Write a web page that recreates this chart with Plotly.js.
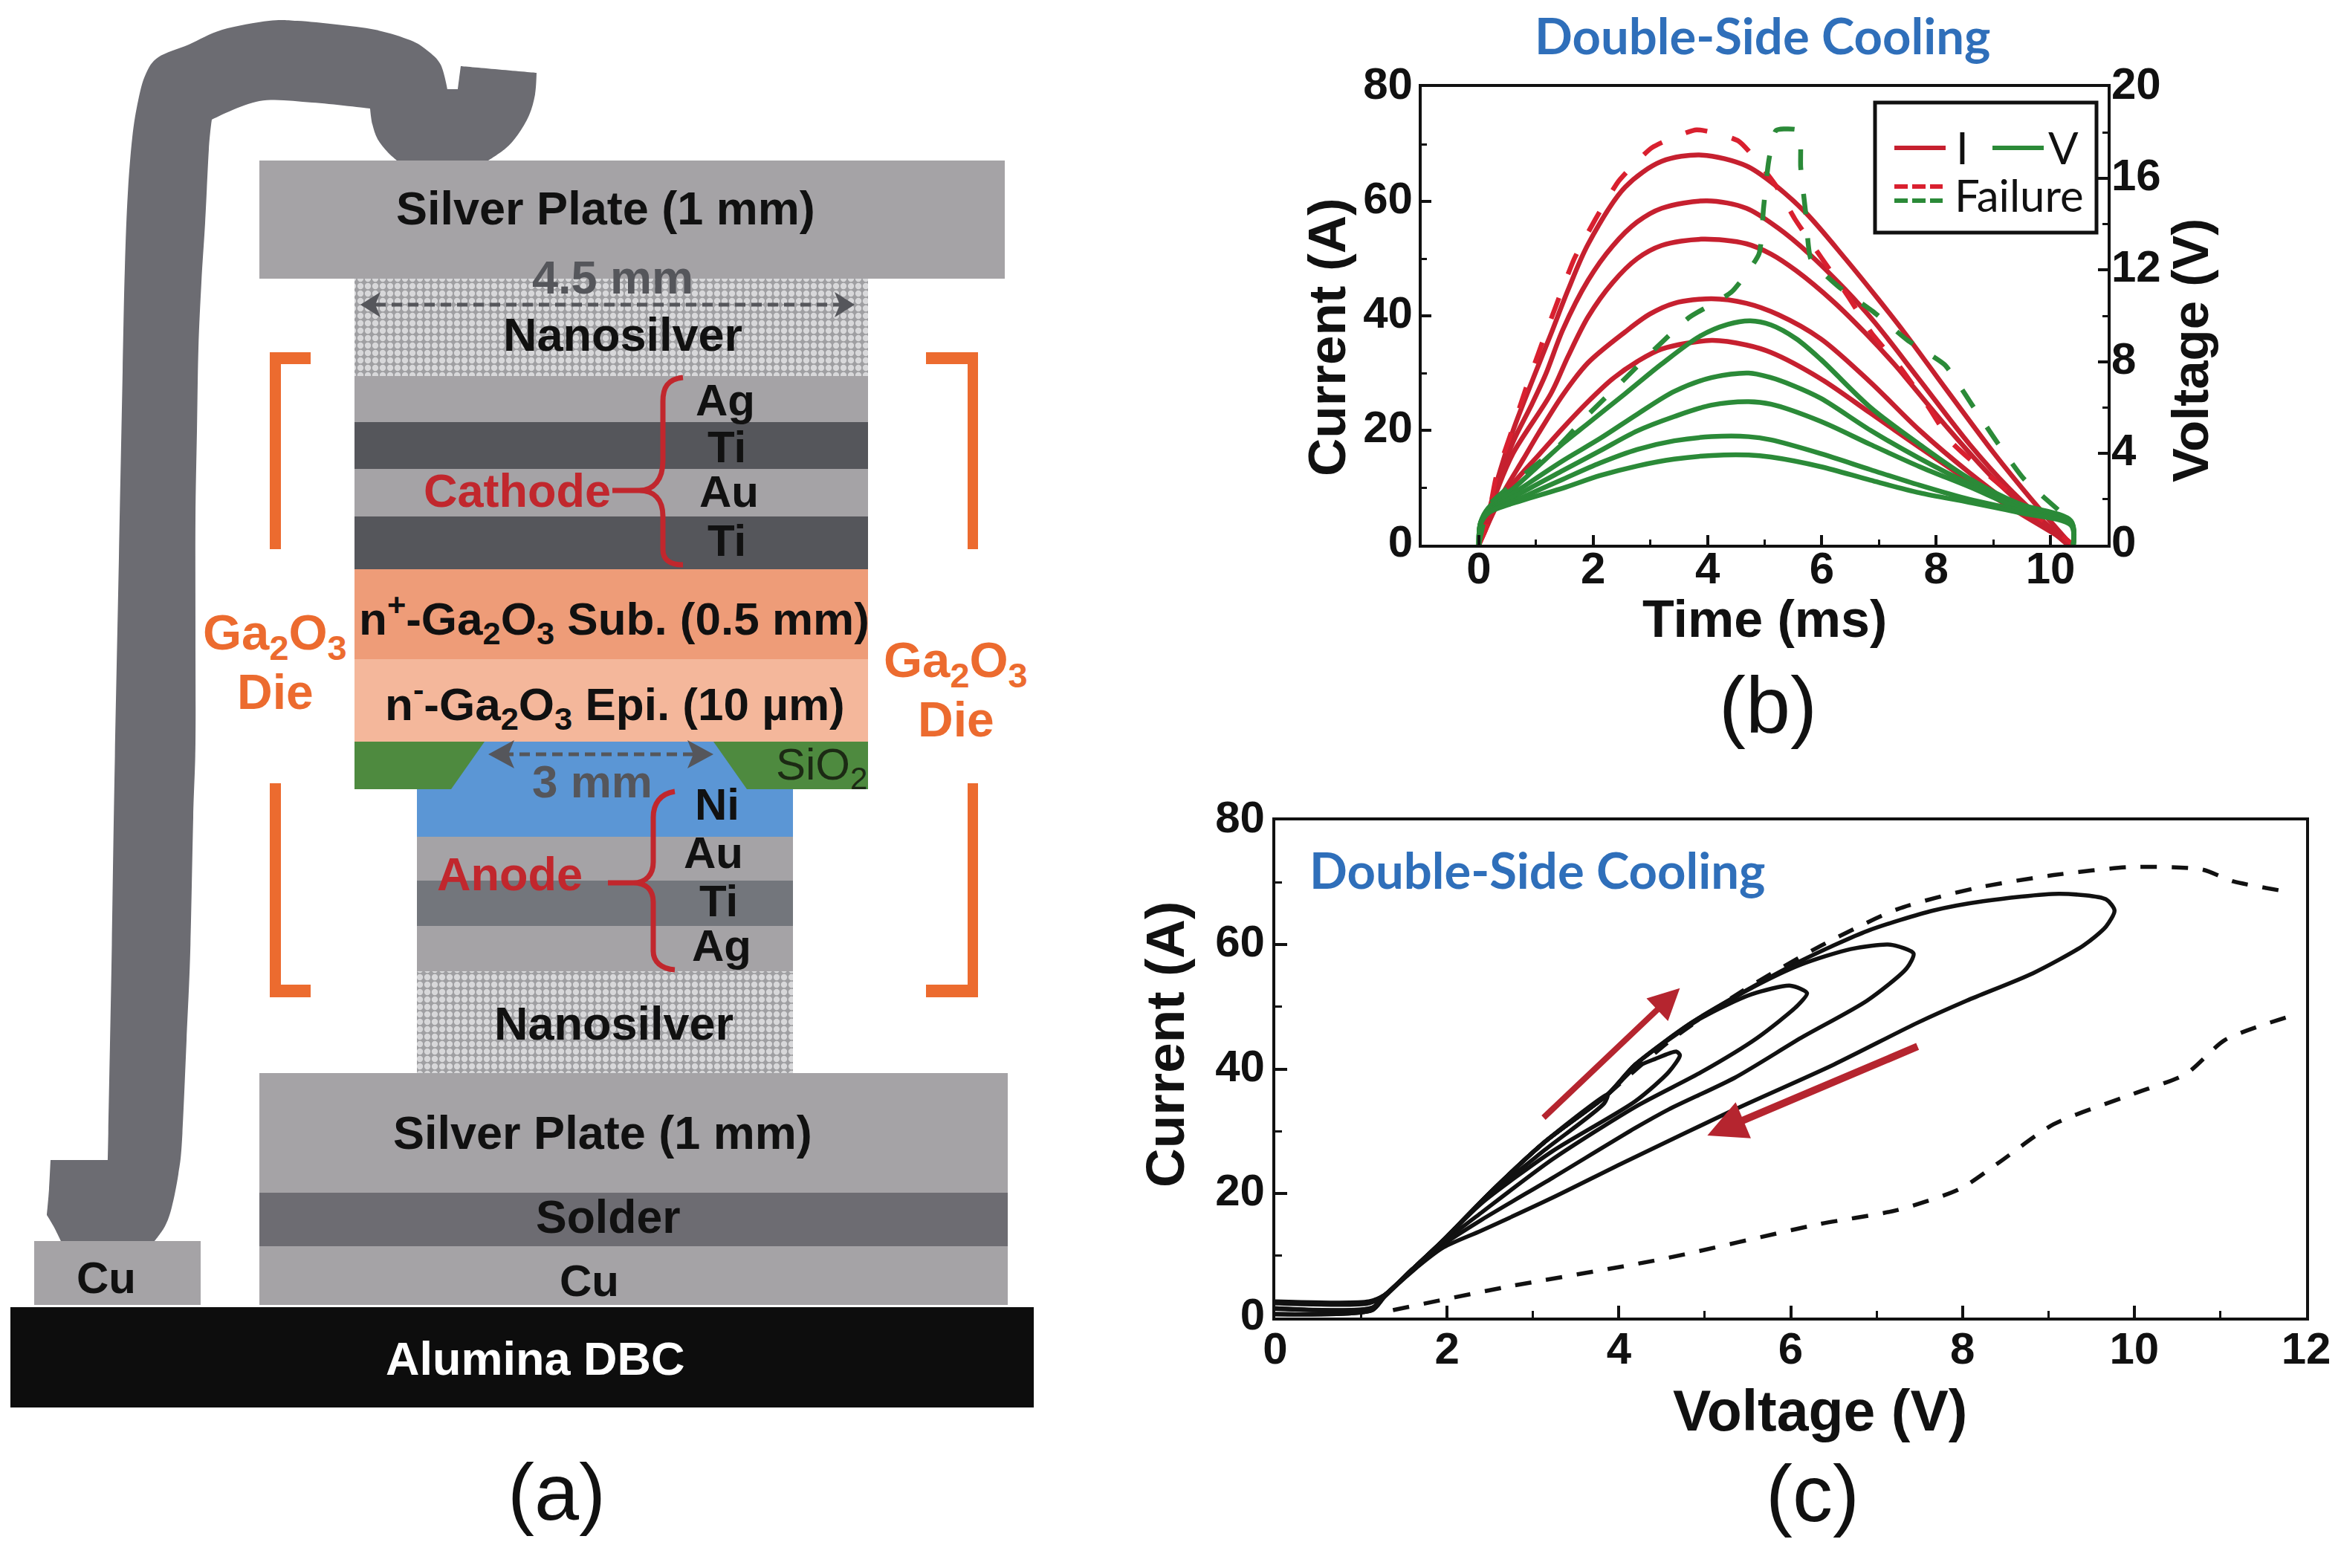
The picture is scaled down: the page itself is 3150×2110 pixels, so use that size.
<!DOCTYPE html>
<html><head><meta charset="utf-8">
<script src="https://cdn.plot.ly/plotly-3.0.1.min.js"></script>
<style>html,body{margin:0;padding:0;background:#fff}</style></head>
<body><div id="chart" style="width:3150px;height:2110px"></div>
<script>
// ---------- panel (b): current and voltage waveforms ----------
const i68t=[0,.1,.3,.6,.98,1.26,1.56,1.91,2.56,3.2,3.9,4.68,5.16,5.72,6.41,6.98,7.45,8.15,9.01,9.66,10.36];
const i68v=[0,3,10.5,20,29.8,36.8,44.5,52.5,62.5,67,68.1,66.2,63,58,50,43,37,27.5,16,8,0];
const i60t=[0,.1,.3,.6,.91,1.17,1.47,1.91,2.34,2.77,3.2,3.99,4.68,5.24,5.76,6.41,6.93,7.71,8.58,9.27,10.32];
const i60v=[0,3,9.8,18,24.2,29.8,37.6,46.2,52.2,56.4,58.8,60.1,58.8,55.3,51,44.6,38.8,28.8,17.6,9.9,0];
const i53t=[0,.1,.3,.6,1.26,1.56,1.91,2.34,2.77,3.2,3.9,4.68,5.11,5.55,6.2,6.76,7.28,8.15,9,10.3];
const i53v=[0,2.8,9,16,26.4,32.9,39.8,45.8,50,52.3,53.4,52.6,50.8,47.9,42.5,37,31.4,21,11.6,0];
const i43t=[0,.1,.4,.78,1.04,1.47,1.91,2.56,2.99,3.42,4.07,4.68,5.24,5.98,6.85,7.71,8.58,9.45,10.1,10.36];
const i43v=[0,2.4,8.6,15,19.4,26.2,31.8,37.2,40.3,42.2,43,42.2,40.2,36,28.4,20,12.6,6.1,2.2,0];
const i35t=[0,.1,.3,.61,1.04,1.47,1.91,2.34,2.77,3.2,4.07,4.68,5.11,5.98,6.85,7.71,8.58,9.45,10.1,10.36];
const i35v=[0,2.2,6.5,10.8,15.6,20.4,25,29,32,34.2,35.7,34.9,33.6,29,23,17,11.1,5.6,1.7,0];
const iFailT=[0,.13,.3,.56,.82,1.08,1.37,1.67,2.04,2.45,3.03,3.81,4.55,5.18,5.53,6.46,6.87,7.37,7.85,8.28,9.23,10.05,10.4];
const iFailV=[0,3,11.7,19.4,27.2,34.5,42.3,50,56.9,63.6,69.4,72.5,70.5,63,56.9,43.4,37,31,24.3,17.8,9.5,2.7,0];
const v98t=[0,.03,.17,.61,1.04,1.47,1.91,2.56,3.2,3.86,4.35,4.75,5.11,5.55,5.98,6.85,7.71,8.58,9.45,10.36,10.4];
const v98v=[0,.97,1.62,2.47,3.44,4.42,5.3,6.6,7.9,9.1,9.62,9.78,9.6,9,8.1,6,4.38,2.89,1.79,1.04,0];
const v75t=[0,.03,.17,.82,1.47,2.12,2.77,3.42,4.07,4.72,5.11,5.5,5.98,6.85,7.71,8.58,9.45,10.36,10.4];
const v75v=[0,.97,1.5,2.6,3.67,4.64,5.7,6.7,7.3,7.5,7.3,6.95,6.4,5,3.77,2.66,1.7,1,0];
const v62t=[0,.03,.17,.82,1.47,2.12,2.77,3.42,4.07,4.72,5.11,5.98,6.85,7.71,8.58,9.45,10.36,10.4];
const v62v=[0,.95,1.45,2.37,3.24,4.1,4.97,5.6,6.1,6.25,6.14,5.39,4.38,3.41,2.53,1.6,.95,0];
const v47t=[0,.03,.17,.82,1.47,2.12,2.77,3.42,4.07,4.72,5.11,5.98,6.85,7.71,8.58,9.45,10.36,10.4];
const v47v=[0,.92,1.4,2.14,2.86,3.57,4.16,4.54,4.72,4.72,4.58,3.98,3.28,2.6,1.98,1.5,.9,0];
const v39t=[0,.03,.17,.82,1.47,2.12,2.77,3.42,4.07,4.72,5.11,5.98,6.85,7.71,8.58,9.45,10.36,10.4];
const v39v=[0,.9,1.4,1.98,2.47,3.02,3.44,3.74,3.9,3.92,3.83,3.41,2.82,2.27,1.85,1.4,.85,0];
const vFailT=[0,.17,.61,1.39,1.91,2.51,3.1,3.68,4.42,4.9,4.98,5.07,5.2,5.6,5.63,5.72,5.81,6.28,6.89,7.5,8.15,8.62,9.06,9.53,10.36];
const vFailV=[0,1.7,2.7,4.3,5.68,7.14,8.6,9.93,11.04,12.7,14.7,16.75,18.1,18.1,16.5,14.45,12.47,11.3,10.2,8.93,7.86,6.14,4.5,2.89,1.04];
// ---------- panel (c): I-V loops ----------
const loop68x=[0,1.09,1.27,1.59,1.96,2.5,3.14,3.87,4.19,4.84,5.35,6.12,6.89,7.66,8.24,9.13,9.67,9.77,9.67,9.4,8.82,8.05,7.47,6.5,5.35,4.05,3.23,2.4,1.96,1.6,1.27,1.13,0];
const loop68y=[2.6,2.6,3.6,7.7,12.5,20.1,28.3,35.9,40.7,47.4,51.6,57.4,62.2,65.5,67,68.2,67.3,65.5,62.9,59.8,55.4,51,47.4,40.7,33.5,24.9,19.3,14,11.3,7.5,3.3,1.2,.5];
const loop60x=[0,1.09,1.27,1.59,1.96,2.5,3.14,3.87,4.19,4.84,5.54,6.12,6.7,7.16,7.43,7.35,6.89,6.12,5.35,4.58,4.19,3.23,2.41,1.96,1.6,1.27,1.13,0];
const loop60y=[2.5,2.5,3.6,7.7,12.5,20.1,28.3,35.9,40.7,47.4,53,56.8,59.3,60,58.6,56.2,51,45,38.6,33.5,30.5,22.5,15.8,11.8,7.6,3.4,1.2,.6];
const loop53x=[0,1.09,1.27,1.59,1.96,2.5,3.14,3.87,4.19,4.96,5.54,6,6.19,6.08,5.61,4.96,4.19,3.23,2.41,1.96,1.6,1.27,1.13,0];
const loop53y=[2.4,2.4,3.6,7.7,12.5,20.1,28.3,35.9,40.7,48.2,52,53.4,52.2,50.2,45,39.5,33.9,25.5,17,12.2,7.7,3.5,1.5,1.5];
const loop43x=[0,1.09,1.27,1.59,1.96,2.5,3.14,3.87,4.19,4.42,4.67,4.71,4.58,4.19,3.23,2.41,1.96,1.6,1.27,1.13,0];
const loop43y=[2.4,2.4,3.6,7.7,12.5,20.1,28.3,35.9,40.2,41.6,42.8,42.2,39.5,34.8,26.8,18.5,12.5,7.7,3.5,1.6,1.5];
const loop35x=[0,1.09,1.27,1.59,1.96,2.5,3.14,3.87,3.83,3.14,2.41,1.96,1.6,1.27,1.13,0];
const loop35y=[2.3,2.3,3.6,7.7,12.5,20.1,28.3,35.9,34.5,27,18.8,12.5,7.7,3.5,1.6,1.4];
const failUpX=[3.87,4.6,5.42,6.32,7.24,8.15,9.06,9.97,10.79,11.15,11.84];
const failUpY=[35.9,44.6,52.4,59.6,65.7,69.1,71.2,72.5,72.1,70.2,68.4];
const failLowX=[1.37,2.68,4.5,6.32,7.24,7.97,8.42,9.06,9.97,10.6,11.06,11.84];
const failLowY=[1.2,4.9,9.4,15,17.3,20.7,24.9,31.1,35.9,39.2,44.7,48.6];
// ---------- text ----------
const panelLabels=['(a)','(b)','(c)'];
const seriesTitle='Double-Side Cooling';

const SANS='"Liberation Sans", Arial, sans-serif', CAL='Lato, "Open Sans", sans-serif';
const RED='#C6202F', GREEN='#2B8A38', RED2='#D9202F', INK='#111111', LAB='#C1272D', ORG='#EC6B2F', STEEL='#55565B';
const wave=(n,x,y,c,ax,dash)=>({type:'scatter',mode:'lines',name:n,x,y,xaxis:'x',yaxis:ax,
  line:{color:c,width:6.5,shape:'spline',smoothing:dash?.5:.9,dash:dash||'solid'}});
const loop=(n,x,y,dash)=>({type:'scatter',mode:'lines',name:n,x,y,xaxis:'x2',yaxis:'y3',
  line:{color:INK,width:5.5,shape:'spline',smoothing:.7,dash:dash||'solid'}});

const NANO=[{x0:477,x1:1168,y0:375,y1:506},{x0:561,x1:1067,y0:1307,y1:1444}];
const nano={type:'bar',name:'Nanosilver',xaxis:'x3',yaxis:'y4',
  x:NANO.map(b=>(b.x0+b.x1)/2),width:NANO.map(b=>b.x1-b.x0),base:NANO.map(b=>b.y0),y:NANO.map(b=>b.y1-b.y0),
  marker:{color:'#BEBDBF',line:{width:0},pattern:{shape:'.',fgcolor:'#D8D8DA',bgcolor:'#9F9FA2',size:10,solidity:.55,fillmode:'replace'}}};

const data=[nano,
 wave('I 68 A',i68t,i68v,RED,'y'),wave('I 60 A',i60t,i60v,RED,'y'),wave('I 53 A',i53t,i53v,RED,'y'),
 wave('I 43 A',i43t,i43v,RED,'y'),wave('I 35 A',i35t,i35v,RED,'y'),
 wave('I failure',iFailT,iFailV,RED2,'y','30px,34px'),
 wave('V failure',vFailT,vFailV,GREEN,'y2','28px,32px'),
 wave('V 9.7 V',v98t,v98v,GREEN,'y2'),wave('V 7.5 V',v75t,v75v,GREEN,'y2'),wave('V 6.2 V',v62t,v62v,GREEN,'y2'),
 wave('V 4.7 V',v47t,v47v,GREEN,'y2'),wave('V 3.9 V',v39t,v39v,GREEN,'y2'),
 loop('68 A',loop68x,loop68y),loop('60 A',loop60x,loop60y),loop('53 A',loop53x,loop53y),
 loop('43 A',loop43x,loop43y),loop('35 A',loop35x,loop35y),
 loop('Failure upper',failUpX,failUpY,'22px,20px'),loop('Failure lower',failLowX,failLowY,'22px,20px')];

// ---------- schematic, drawn on a page-sized axis pair ----------
const S=[];
const rect=(x0,y0,x1,y1,c)=>S.push({type:'rect',xref:'x3',yref:'y4',x0,y0,x1,y1,fillcolor:c,line:{width:0}});
const poly=(p,c)=>S.push({type:'path',xref:'x3',yref:'y4',path:'M'+p.map(q=>q.join(',')).join(' L')+' Z',fillcolor:c,line:{width:0}});
// closed outline, rounded except at points flagged as corners
const blob=(p,c)=>{const n=p.length;let d='M'+p[0][0]+','+p[0][1];
  for(let i=0;i<n;i++){const a=p[(i-1+n)%n],b=p[i],e=p[(i+1)%n],f=p[(i+2)%n];
    const t1=b[2]?[0,0]:[(e[0]-a[0])/6,(e[1]-a[1])/6], t2=e[2]?[0,0]:[(f[0]-b[0])/6,(f[1]-b[1])/6];
    d+=' C'+(b[0]+t1[0]).toFixed(1)+','+(b[1]+t1[1]).toFixed(1)+' '+(e[0]-t2[0]).toFixed(1)+','+(e[1]-t2[1]).toFixed(1)+' '+e[0]+','+e[1];}
  S.push({type:'path',xref:'x3',yref:'y4',path:d+' Z',fillcolor:c,line:{width:0}});};
const stroke=(path,c,w,dash)=>S.push({type:'path',xref:'x3',yref:'y4',path,line:{color:c,width:w,dash:dash||'solid'}});
const AG='#A5A3A6', TI='#55565B';
blob([[68,1561,1],[66,1600],[63,1635,1],[72,1650],[82,1670,1],[208,1670,1],[222,1650],[231,1625],[240,1580],[245,1533],[251,1400],[256,1281],[260,1100],[263,1000],[263,850],[263,700],[265,580],[267,469],[271,380],[276,300],[281,201],[285,161,1],[349,136],[420,138],[498,146,1],[501,167],[508,187],[521,204],[534,216,1],[657,216,1],[680,200],[697,181],[712,155],[720,127],[722,98,1],[620,89,1],[616,120,1],[602,120,1],[593,87],[575,68],[552,54],[505,40],[453,33],[400,28],[362,28],[299,40],[254,60],[213,77],[196,100],[186,135],[178,185],[172,260],[168,360],[165,500],[160,750],[154,1050],[150,1300],[145,1561,1]],'#6C6C72');
rect(349,216,1352,375,AG);
rect(477,506,1168,568,AG); rect(477,568,1168,631,TI); rect(477,631,1168,695,AG); rect(477,695,1168,766,TI);
rect(477,766,1168,887,'#EE9C78'); rect(477,887,1168,998,'#F4B79B'); rect(477,998,1168,1062,'#4E8A3F');
poly([[652,998],[960,998],[1005,1062],[1067,1062],[1067,1126],[561,1126],[561,1062],[607,1062]],'#5B96D5');
rect(561,1126,1067,1185,AG); rect(561,1185,1067,1246,'#73767C'); rect(561,1246,1067,1307,AG);
rect(349,1444,1356,1605,AG); rect(349,1605,1356,1677,'#6D6C72'); rect(349,1677,1356,1756,AG);
rect(46,1670,270,1756,AG); rect(14,1759,1391,1894,'#0D0D0D');
poly([[363,474],[418,474],[418,490],[378,490],[378,739],[363,739]],ORG);
poly([[1246,474],[1316,474],[1316,739],[1302,739],[1302,490],[1246,490]],ORG);
poly([[363,1054],[378,1054],[378,1325],[418,1325],[418,1342],[363,1342]],ORG);
poly([[1302,1054],[1316,1054],[1316,1342],[1246,1342],[1246,1325],[1302,1325]],ORG);
stroke('M919,508 C898,510 892,522 892,540 L892,620 C892,645 880,660 860,660 L824,660 M860,660 C880,660 892,672 892,695 L892,740 C892,752 900,760 919,760',LAB,7);
stroke('M908,1065 C888,1068 879,1082 879,1100 L879,1160 C879,1176 870,1188 852,1188 L818,1188 M852,1188 C870,1188 879,1198 879,1214 L879,1280 C879,1294 890,1304 908,1305',LAB,7);
stroke('M505,410 L1130,410',STEEL,5,'14px,8px'); stroke('M677,1015 L940,1015',STEEL,5,'14px,8px');
poly([[485,410],[512,393],[505,410],[512,427]],STEEL); poly([[1150,410],[1123,393],[1130,410],[1123,427]],STEEL);
poly([[657,1015],[692,996],[684,1015],[692,1034]],STEEL); poly([[960,1015],[925,996],[933,1015],[925,1034]],STEEL);
// legend of panel (b)
rect(2523,138,2821,313,'rgba(255,255,255,0)'); S[S.length-1].line={color:'#111',width:5};
const lg=(x0,x1,y,c,dash)=>S.push({type:'line',xref:'x3',yref:'y4',x0,x1,y0:y,y1:y,line:{color:c,width:6,dash:dash||'solid'}});
lg(2549,2618,199,RED); lg(2681,2750,199,GREEN); lg(2549,2614,251,RED2,'18px,6px'); lg(2549,2614,270,GREEN,'18px,6px');

const A=[];
const txt=(text,x,y,size,color,bold,extra)=>A.push(Object.assign({xref:'x3',yref:'y4',x,y,text:bold===false?text:'<b>'+text+'</b>',showarrow:false,xanchor:'center',yanchor:'middle',
  font:{family:SANS,size,color:color||INK}},extra||{}));
const steel=STEEL;
txt('Silver Plate (1 mm)',815,280,63); txt('4.5 mm',824,373,63,steel); txt('Nanosilver',838,450,63);
txt('Ag',976,538,60); txt('Ti',978,601,60); txt('Au',981,661,60); txt('Ti',978,727,60);
txt('Cathode',696,660,63,LAB);
txt('n<sup>+</sup>-Ga<sub>2</sub>O<sub>3</sub> Sub. (0.5 mm)',826,832,62);
txt('n<sup>-</sup>-Ga<sub>2</sub>O<sub>3</sub> Epi. (10 µm)',827,947,62);
txt('Ga<sub>2</sub>O<sub>3</sub>',370,855,67,ORG); txt('Die',370,931,66,ORG);
txt('Ga<sub>2</sub>O<sub>3</sub>',1286,892,67,ORG); txt('Die',1286,968,66,ORG);
txt('SiO<sub>2</sub>',1105,1033,60,'#1c2a14',false); txt('3 mm',797,1051,62,steel);
txt('Ni',965,1082,60); txt('Au',960,1147,60); txt('Ti',967,1212,60); txt('Ag',971,1272,60);
txt('Anode',686,1176,63,LAB); txt('Nanosilver',826,1377,63);
txt('Silver Plate (1 mm)',811,1524,63); txt('Solder',818,1637,62.5); txt('Cu',793,1723,60); txt('Cu',143,1719,60);
txt('Alumina DBC',720,1828,63,'#FFFFFF');
txt(panelLabels[0],749,2007,108,'#111',false); txt(panelLabels[1],2379,948,108,'#111',false); txt(panelLabels[2],2439,2009,108,'#111',false);
txt(seriesTitle,2371,47,67,'#2F6FBA',true); A[A.length-1].font.family=CAL;
txt(seriesTitle,2068,1170,67,'#2F6FBA',true); A[A.length-1].font.family=CAL;
txt('I',2640,198,60,'#111',false); A[A.length-1].font.family=CAL;
txt('V',2776,198,60,'#111',false); A[A.length-1].font.family=CAL;
txt('Failure',2717,262,60,'#111',false); A[A.length-1].font.family=CAL;
// axis titles (placed off-centre, as in the reference)
txt('Current (A)',1785,454,71,INK,true,{textangle:-90});
txt('Voltage (V)',2947,472,69,INK,true,{textangle:-90});
txt('Time (ms)',2374,833,70);
txt('Current (A)',1567,1406,73,INK,true,{textangle:-90});
txt('Voltage (V)',2449,1898,77);
// red direction arrows, panel (c)
const arrow=(x,y,ax,ay,w)=>A.push({xref:'x2',yref:'y3',axref:'x2',ayref:'y3',x,y,ax,ay,text:'',showarrow:true,arrowhead:2,arrowsize:1.05,arrowwidth:w,arrowcolor:'#B5252F',standoff:0,startstandoff:0});
arrow(4.71,53,3.11,32,8); arrow(5.03,29.3,7.49,43.7,10);

const tf={family:SANS,size:60,color:INK,weight:700};
const W=3150,H=2110;
const box=(x0,x1)=>[x0/W,x1/W], boy=(top,bot)=>[1-bot/H,1-top/H];
const mn=(len,d)=>({ticks:'inside',ticklen:len,tickwidth:3,tickcolor:'#111',dtick:d,tick0:0});
const axis=(o)=>Object.assign({showgrid:false,zeroline:false,showline:true,linecolor:'#111',linewidth:4,ticks:'inside',ticklen:13,tickwidth:4,tickcolor:'#111',tickfont:tf},o);
const layout={width:W,height:H,autosize:false,margin:{l:0,r:0,t:0,b:0,pad:0},paper_bgcolor:'#fff',plot_bgcolor:'rgba(0,0,0,0)',showlegend:false,barmode:'overlay',
  xaxis:axis({domain:box(1913,2836),range:[-1,11],dtick:2,tick0:0,anchor:'y',mirror:true,ticklabelstandoff:-24,minor:mn(7,1)}),
  yaxis:axis({domain:boy(117,733),range:[0,80],dtick:20,tick0:0,anchor:'x',mirror:true,ticklabelstandoff:-4,ticklabelshift:-5,minor:mn(7,10)}),
  yaxis2:axis({domain:boy(117,733),range:[0,20],dtick:4,tick0:0,anchor:'x',overlaying:'y',side:'right',ticklabelstandoff:4,ticklabelshift:-5,showline:false,minor:mn(7,2)}),
  xaxis2:axis({domain:box(1716,3103),range:[0,12],dtick:2,tick0:0,anchor:'y3',mirror:true,ticklen:16,ticklabelstandoff:-14,minor:mn(9,1)}),
  yaxis3:axis({domain:boy(1104,1773),range:[0,80],dtick:20,tick0:0,anchor:'x2',mirror:true,ticklen:16,ticklabelstandoff:-2,ticklabelshift:-5,minor:mn(9,10)}),
  xaxis3:{domain:[0,1],range:[0,W],visible:false,anchor:'y4',fixedrange:true},
  yaxis4:{domain:[0,1],range:[H,0],visible:false,anchor:'x3',fixedrange:true},
  shapes:S,annotations:A};
Plotly.newPlot('chart',data,layout,{staticPlot:true,displayModeBar:false});
</script></body></html>
